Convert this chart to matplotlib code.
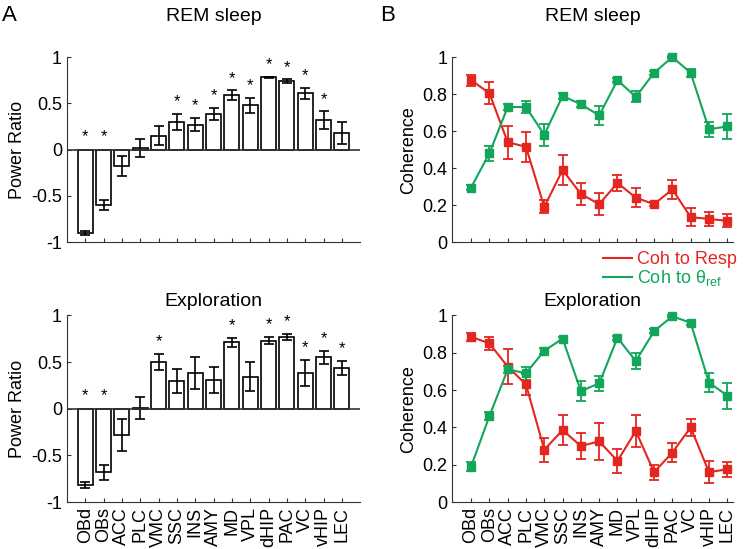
import numpy as np
import matplotlib.pyplot as plt

plt.rcParams['font.family'] = ['Liberation Sans', 'DejaVu Sans']
plt.rcParams['font.size'] = 13
plt.rcParams['mathtext.fontset'] = 'custom'
plt.rcParams['mathtext.rm'] = 'Liberation Sans'

regions = ["OBd", "OBs", "ACC", "PLC", "VMC", "SSC", "INS", "AMY", "MD", "VPL",
           "dHIP", "PAC", "VC", "vHIP", "LEC"]

# panel A: power ratio (mean, sem) and significance
rem_power = [-0.90, -0.60, -0.18, 0.02, 0.15, 0.30, 0.27, 0.39, 0.59, 0.48,
             0.78, 0.74, 0.61, 0.32, 0.18]
rem_power_err = [0.02, 0.05, 0.11, 0.10, 0.10, 0.09, 0.07, 0.065, 0.05, 0.08,
                 0.01, 0.02, 0.06, 0.095, 0.12]
rem_sig = [1, 1, 0, 0, 0, 1, 1, 1, 1, 1, 1, 1, 1, 1, 0]

exp_power = [-0.82, -0.68, -0.28, 0.01, 0.50, 0.30, 0.38, 0.31, 0.71, 0.34,
             0.73, 0.77, 0.38, 0.55, 0.44]
exp_power_err = [0.03, 0.08, 0.17, 0.12, 0.09, 0.13, 0.17, 0.14, 0.05, 0.155,
                 0.04, 0.035, 0.14, 0.07, 0.075]
exp_sig = [1, 1, 0, 0, 1, 0, 0, 0, 1, 0, 1, 1, 1, 1, 1]

# panel B: coherence to respiration and to theta_ref
rem_resp = [0.875, 0.805, 0.54, 0.515, 0.19, 0.39, 0.26, 0.205, 0.32, 0.24,
            0.205, 0.285, 0.135, 0.125, 0.115]
rem_resp_err = [0.03, 0.06, 0.09, 0.08, 0.035, 0.08, 0.06, 0.06, 0.045, 0.05,
                0.01, 0.05, 0.05, 0.04, 0.035]
rem_theta = [0.295, 0.48, 0.73, 0.73, 0.58, 0.79, 0.745, 0.685, 0.875, 0.785,
             0.915, 1.0, 0.915, 0.61, 0.625]
rem_theta_err = [0.015, 0.04, 0.015, 0.03, 0.06, 0.015, 0.015, 0.05, 0.01, 0.03,
                 0.01, 0.005, 0.02, 0.04, 0.07]

exp_resp = [0.885, 0.85, 0.725, 0.63, 0.28, 0.385, 0.30, 0.325, 0.22, 0.38,
            0.16, 0.265, 0.40, 0.16, 0.175]
exp_resp_err = [0.02, 0.035, 0.095, 0.055, 0.065, 0.08, 0.07, 0.10, 0.063, 0.085,
                0.04, 0.05, 0.045, 0.06, 0.04]
exp_theta = [0.19, 0.46, 0.71, 0.69, 0.81, 0.875, 0.595, 0.635, 0.88, 0.755,
             0.915, 0.995, 0.96, 0.64, 0.57]
exp_theta_err = [0.025, 0.02, 0.02, 0.035, 0.015, 0.01, 0.055, 0.04, 0.01, 0.045,
                 0.01, 0.005, 0.01, 0.05, 0.07]

red = '#e3261f'
green = '#12a65a'
axcol = '#333333'
x = np.arange(len(regions))


def style(ax):
    ax.spines['top'].set_visible(False)
    ax.spines['right'].set_visible(False)
    ax.spines['left'].set_color(axcol)
    ax.spines['bottom'].set_color(axcol)
    ax.tick_params(direction='in', length=3, colors=axcol, labelcolor='black')
    ax.set_xticks(x)


def bar_panel(ax, vals, errs, sig, title, pad):
    ax.bar(x, vals, width=0.82, color='white', edgecolor='black', linewidth=1.2, zorder=2)
    ax.errorbar(x, vals, yerr=errs, fmt='none', ecolor='black', elinewidth=1.2,
                capsize=3.5, capthick=1.2, zorder=3)
    ax.axhline(0, color=axcol, lw=1.2, zorder=4)
    for i in range(len(vals)):
        if sig[i]:
            if vals[i] < 0:
                ys = 0.14
            else:
                ys = vals[i] + errs[i] + 0.13
            ax.text(x[i], ys, '*', ha='center', va='center', fontsize=12)
    ax.set_xlim(-1, 15)
    ax.set_ylim(-1, 1)
    ax.set_yticks([-1, -0.5, 0, 0.5, 1])
    ax.set_yticklabels(['-1', '-0.5', '0', '0.5', '1'])
    ax.set_ylabel('Power Ratio')
    ax.set_title(title, fontsize=14, pad=pad)
    style(ax)


def coh_panel(ax, resp, resp_err, theta, theta_err, title, pad):
    ax.errorbar(x, resp, yerr=resp_err, color=red, marker='s', ms=6, lw=1.5,
                elinewidth=1.3, capsize=3.5, capthick=1.3, clip_on=False)
    ax.errorbar(x, theta, yerr=theta_err, color=green, marker='s', ms=6, lw=1.5,
                elinewidth=1.3, capsize=3.5, capthick=1.3, clip_on=False)
    ax.set_xlim(-1.03, 14.3)
    ax.set_ylim(0, 1)
    ax.set_yticks([0, 0.2, 0.4, 0.6, 0.8, 1])
    ax.set_yticklabels(['0', '0.2', '0.4', '0.6', '0.8', '1'])
    ax.set_ylabel('Coherence')
    ax.set_title(title, fontsize=14, pad=pad)
    style(ax)


fig = plt.figure(figsize=(7.5, 5.49), dpi=100)
axA1 = fig.add_axes([0.0893, 0.559, 0.391, 0.337])
axA2 = fig.add_axes([0.0893, 0.0856, 0.391, 0.340])
axB1 = fig.add_axes([0.603, 0.559, 0.374, 0.337])
axB2 = fig.add_axes([0.603, 0.0856, 0.374, 0.340])

bar_panel(axA1, rem_power, rem_power_err, rem_sig, 'REM sleep', 26)
bar_panel(axA2, exp_power, exp_power_err, exp_sig, 'Exploration', 7)
coh_panel(axB1, rem_resp, rem_resp_err, rem_theta, rem_theta_err, 'REM sleep', 26)
coh_panel(axB2, exp_resp, exp_resp_err, exp_theta, exp_theta_err, 'Exploration', 7)

axA1.set_xticklabels([])
axB1.set_xticklabels([])
axA2.set_xticklabels(regions, rotation=90)
axB2.set_xticklabels(regions, rotation=90)

leg_handles = [plt.Line2D([], [], color=red, lw=1.5), plt.Line2D([], [], color=green, lw=1.5)]
fig.legend(leg_handles, ['Coh to Resp', r'Coh to θ$_{\mathrm{ref}}$'],
           loc='upper right', bbox_to_anchor=(0.997, 0.562), frameon=False,
           handlelength=1.6, handletextpad=0.3, labelspacing=0.0,
           labelcolor=[red, green], fontsize=13, borderpad=0.1)

fig.text(0.003, 0.99, 'A', fontsize=16, va='top', ha='left')
fig.text(0.507, 0.99, 'B', fontsize=16, va='top', ha='left')

fig.savefig('out.png', dpi=100)
